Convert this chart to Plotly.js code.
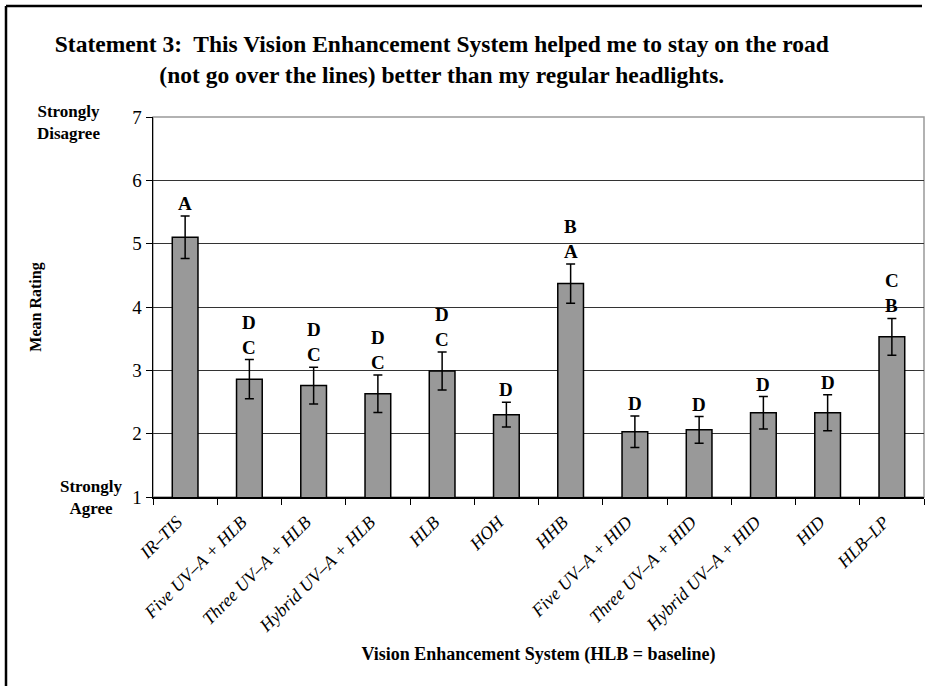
<!DOCTYPE html>
<html>
<head>
<meta charset="utf-8">
<script src="https://cdn.plot.ly/plotly-3.0.1.min.js"></script>
<style>
  html, body { margin: 0; padding: 0; background: #fff; }
  #chart { width: 931px; height: 686px; }
</style>
</head>
<body>
<div id="chart"></div>
<script>
// Data
const categories = [
  "IR–TIS",
  "Five UV–A + HLB",
  "Three UV–A + HLB",
  "Hybrid UV–A + HLB",
  "HLB",
  "HOH",
  "HHB",
  "Five UV–A + HID",
  "Three UV–A + HID",
  "Hybrid UV–A + HID",
  "HID",
  "HLB–LP"
];
const meanRating = [5.10, 2.86, 2.76, 2.63, 2.99, 2.30, 4.37, 2.03, 2.06, 2.33, 2.33, 3.53];
const errorSize  = [0.335, 0.31, 0.29, 0.295, 0.30, 0.195, 0.31, 0.25, 0.21, 0.255, 0.285, 0.29];
const groupLower = ["A", "C", "C", "C", "C", "D", "A", "D", "D", "D", "D", "B"];
const groupUpper = ["", "D", "D", "D", "D", "", "B", "", "", "", "", "C"];
const yTickVals = [1, 2, 3, 4, 5, 6, 7];

const SERIF = "Liberation Serif, Times New Roman, serif";

const trace = {
  type: "bar",
  x: categories,
  y: meanRating,
  width: 0.4,
  marker: { color: "#999999", line: { color: "#000000", width: 1.5 } },
  error_y: { type: "data", array: errorSize, visible: true, color: "#000000", thickness: 1.5, width: 4.5 },
  hoverinfo: "x+y"
};

const annotations = [];
categories.forEach((c, i) => {
  const top = meanRating[i] + errorSize[i];
  if (groupLower[i]) {
    annotations.push({
      x: c, y: top, xref: "x", yref: "y", text: "<b>" + groupLower[i] + "</b>",
      showarrow: false, yanchor: "bottom", yshift: 0,
      font: { family: SERIF, size: 19, color: "#000" }
    });
  }
  if (groupUpper[i]) {
    annotations.push({
      x: c, y: top, xref: "x", yref: "y", text: "<b>" + groupUpper[i] + "</b>",
      showarrow: false, yanchor: "bottom", yshift: 25,
      font: { family: SERIF, size: 19, color: "#000" }
    });
  }
});

// End-point labels of the rating scale
annotations.push({
  xref: "paper", yref: "paper", x: -0.11, y: 1.0, xanchor: "center", yanchor: "middle",
  yshift: -5,
  text: "<b>Strongly<br>Disagree</b>", showarrow: false, align: "center",
  font: { family: SERIF, size: 17, color: "#000" }
});
annotations.push({
  xref: "paper", yref: "paper", x: -0.08, y: 0.0, xanchor: "center", yanchor: "middle",
  yshift: 0,
  text: "<b>Strongly<br>Agree</b>", showarrow: false, align: "center",
  font: { family: SERIF, size: 17, color: "#000" }
});

const layout = {
  width: 931,
  height: 686,
  paper_bgcolor: "#ffffff",
  plot_bgcolor: "#ffffff",
  margin: { l: 153, r: 7, t: 117, b: 189, pad: 0 },
  showlegend: false,
  bargap: 0.6,
  title: {
    text: "<b>Statement 3:&nbsp; This Vision Enhancement System helped me to stay on the road<br>(not go over the lines) better than my regular headlights.</b>",
    font: { family: SERIF, size: 23.5, color: "#000" },
    xref: "container", yref: "container",
    x: 0.4745, xanchor: "center",
    y: 1 - 52 / 686, yanchor: "top"
  },
  xaxis: {
    type: "category",
    tickangle: -45,
    tickson: "boundaries",
    ticks: "outside",
    ticklen: 6,
    tickcolor: "#000",
    tickwidth: 1,
    ticklabelshift: -8,
    ticklabelstandoff: 6,
    showline: true,
    linecolor: "#000",
    linewidth: 1.5,
    showgrid: false,
    tickfont: { family: SERIF, size: 18, color: "#000", style: "italic" },
    title: {
      text: "<b>Vision Enhancement System (HLB = baseline)</b>",
      font: { family: SERIF, size: 18, color: "#000" },
      standoff: 12
    },
    automargin: false
  },
  yaxis: {
    range: [1, 7],
    tickvals: yTickVals,
    ticktext: yTickVals.map(String),
    ticks: "outside",
    ticklen: 6,
    tickcolor: "#000",
    showline: true,
    linecolor: "#000",
    linewidth: 1.5,
    showgrid: true,
    gridcolor: "#333333",
    gridwidth: 1,
    zeroline: false,
    tickfont: { family: SERIF, size: 19, color: "#000" },
    title: {
      text: "<b>Mean Rating</b>",
      font: { family: SERIF, size: 16, color: "#000" },
      standoff: 86
    },
    automargin: false
  },
  annotations: annotations,
  shapes: [
    // plot area border (gray top / right)
    { type: "rect", xref: "paper", yref: "paper", x0: 0, x1: 1, y0: 0, y1: 1,
      line: { color: "#999999", width: 1.5 }, layer: "below" },
    // outer frame, left and top sides
    { type: "line", xref: "paper", yref: "paper",
      x0: (6 - 153) / 771, x1: (6 - 153) / 771, y0: -189 / 380, y1: 1 + 111 / 380,
      line: { color: "#000", width: 2.5 } },
    { type: "line", xref: "paper", yref: "paper",
      x0: (6 - 153) / 771, x1: (922 - 153) / 771, y0: 1 + 111 / 380, y1: 1 + 111 / 380,
      line: { color: "#000", width: 2.5 } }
  ]
};

Plotly.newPlot("chart", [trace], layout, { staticPlot: true, displayModeBar: false });
</script>
</body>
</html>
